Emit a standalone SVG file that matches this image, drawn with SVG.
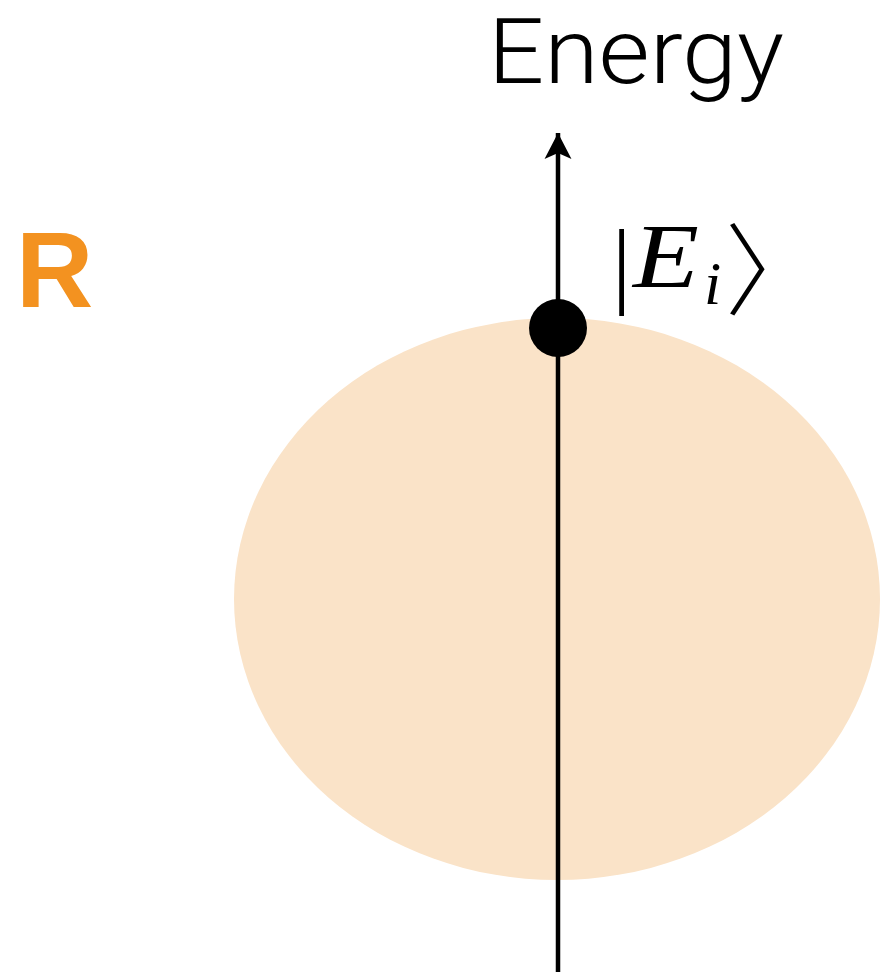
<svg xmlns="http://www.w3.org/2000/svg" width="880" height="976" viewBox="0 0 880 976">
<style>
.lbl{font-family:"Roboto","Liberation Sans",Arial,sans-serif;}
.math{font-family:"Liberation Serif","Times New Roman",serif;}
</style>
<defs>
<marker id="ah" markerUnits="userSpaceOnUse" markerWidth="30" markerHeight="30" refX="26" refY="15" orient="auto">
<path d="M0,1.5 L26,15 L0,28.5 L6,15 Z" fill="#000"/>
</marker>
</defs>
<rect width="880" height="976" fill="#fff"/>
<g id="region">
<ellipse cx="557" cy="599" rx="323" ry="281" fill="#fae3c8"/>
</g>
<g id="connectors">
<line x1="558" y1="972" x2="558" y2="133" stroke="#000" stroke-width="4.5" marker-end="url(#ah)"/>
</g>
<g id="state">
<circle cx="558" cy="328" r="29" fill="#000"/>
</g>
<g id="labels">
<text class="lbl" x="488" y="83" font-size="90" font-weight="300" textLength="296" lengthAdjust="spacingAndGlyphs" fill="#000">Energy</text>
<text x="16" y="307" font-size="107" font-weight="bold" font-family="'Liberation Sans',Arial,sans-serif" fill="#f39220">R</text>
<text class="math" x="612" y="296" font-size="96" fill="#000">|</text>
<text class="math" x="633" y="287" font-size="92" font-style="italic" fill="#000" textLength="66" lengthAdjust="spacingAndGlyphs">E</text>
<text class="math" x="704" y="304" font-size="62" font-style="italic" fill="#000">i</text>
<text x="725" y="307" font-size="100" font-weight="300" font-family="'Noto Sans CJK SC','Noto Sans CJK JP',sans-serif" fill="#000">〉</text>
</g>
</svg>
